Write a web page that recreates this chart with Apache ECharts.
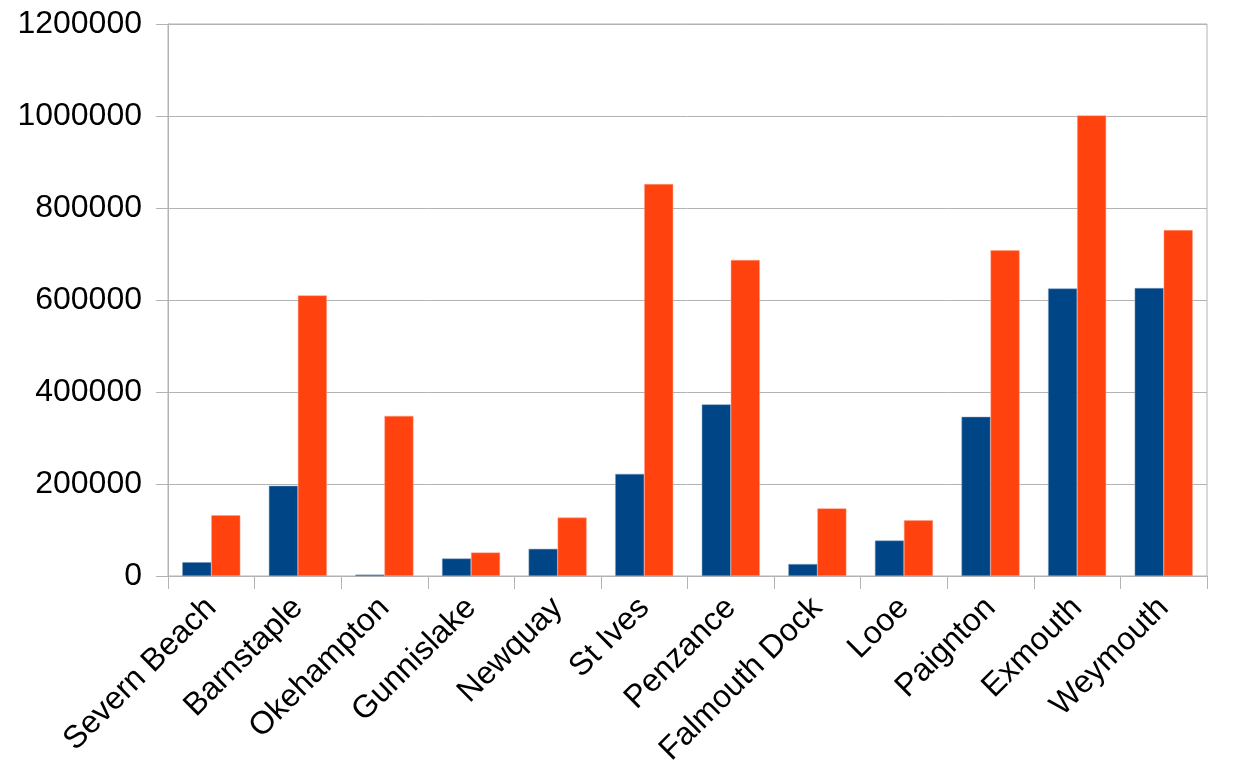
<!DOCTYPE html>
<html>
<head>
<meta charset="utf-8">
<script src="https://cdn.jsdelivr.net/npm/echarts@6/dist/echarts.min.js"></script>
<style>html,body{margin:0;padding:0;background:#fff;}#c{width:1244px;height:780px;}</style>
</head>
<body>
<div id="c"></div>
<script>
const categories = ['Severn Beach','Barnstaple','Okehampton','Gunnislake','Newquay','St Ives','Penzance','Falmouth Dock','Looe','Paignton','Exmouth','Weymouth'];
const seriesA = [30000,196000,3000,38000,59000,222000,373000,26000,77000,346000,625000,626000];
const seriesB = [132000,610000,348000,51000,127000,852000,687000,147000,121000,708000,1001000,752000];
const yTicks = {min:0, max:1200000, interval:200000};

const chart = echarts.init(document.getElementById('c'));
const font = 'Liberation Sans, Arial, sans-serif';
chart.setOption({
  animation:false,
  backgroundColor:'#fff',
  grid:{left:168, right:37, top:24, bottom:204, show:true, borderColor:'#b3b3b3', borderWidth:1},
  xAxis:{
    type:'category', data:categories,
    axisLine:{lineStyle:{color:'#b3b3b3'}},
    axisTick:{show:true, length:13, lineStyle:{color:'#b3b3b3'}},
    axisLabel:{rotate:45, fontSize:32, color:'#000', fontFamily:font, margin:27, interval:0}
  },
  yAxis:{
    type:'value', min:yTicks.min, max:yTicks.max, interval:yTicks.interval,
    axisLine:{show:true, lineStyle:{color:'#b3b3b3'}},
    axisTick:{show:true, length:12, lineStyle:{color:'#b3b3b3'}},
    splitLine:{lineStyle:{color:'#b3b3b3'}},
    axisLabel:{fontSize:32, color:'#000', fontFamily:font, margin:26, formatter:function(v){return String(v);}}
  },
  series:[
    {type:'bar', data:seriesA, barGap:'0%', barCategoryGap:'33%', itemStyle:{color:'#004586', borderColor:'#7f9fc0', borderWidth:0.5}},
    {type:'bar', data:seriesB, barGap:'0%', barCategoryGap:'33%', itemStyle:{color:'#ff420e', borderColor:'#ffa086', borderWidth:0.5}}
  ]
});
</script>
</body>
</html>
